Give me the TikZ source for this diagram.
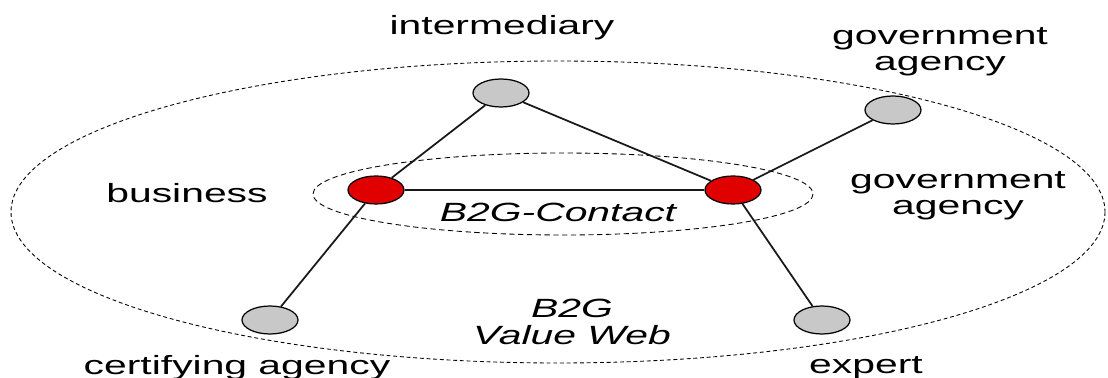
\documentclass[tikz,border=0pt]{standalone}
\usepackage{fontspec}
\setmainfont{Liberation Sans}
\usetikzlibrary{shapes.geometric}
\definecolor{nodegray}{RGB}{200,200,200}
\definecolor{nodered}{RGB}{224,0,0}
\tikzset{
	actor/.style={ellipse, draw=black, fill=nodegray, line width=0.7pt, minimum width=1.12cm, minimum height=0.56cm, inner sep=0pt},
	party/.style={actor, fill=nodered},
	label/.style={font=\fontsize{15}{15}\selectfont, xscale=1.55, align=center, inner sep=0pt},
	web/.style={draw=black, dash pattern=on 2.2pt off 1.6pt, line width=0.5pt},
	link/.style={draw=black!90, line width=1pt}
}
\begin{document}
\begin{tikzpicture}[x=0.02cm, y=-0.02cm]
\useasboundingbox (0,0) rectangle (1108,378);

\draw[web] (558,212) ellipse [x radius=547, y radius=151];
\draw[web, dash pattern=on 3pt off 2pt] (563,194) ellipse [x radius=250, y radius=41];

\node[actor] (intermediary) at (501,93) {};
\node[actor] (govtop) at (893,110) {};
\node[party] (business) at (376,190) {};
\node[party] (govright) at (733,190) {};
\node[actor] (certifying) at (270,320) {};
\node[actor] (expert) at (822,320) {};

\draw[link] (intermediary) -- (business);
\draw[link] (intermediary) -- (govright);
\draw[link] (govtop) -- (govright);
\draw[link] (business) -- (govright);
\draw[link] (business) -- (certifying);
\draw[link] (govright) -- (expert);

\node[label] (intermediarytext) at (502,28) {intermediary};
\node[label] (govtoptext) at (940,52) {government\\agency};
\node[label] (businesstext) at (187,193) {business};
\node[label] (govrighttext) at (958,196) {government\\agency};
\node[label] (contacttext) at (558,212) {\itshape B2G-Contact};
\node[label] (webtext) at (572,322) {\itshape B2G\\\itshape Value Web};
\node[label] (certifyingtext) at (237,368) {certifying agency};
\node[label] (experttext) at (866,368) {expert};

\end{tikzpicture}
\end{document}
